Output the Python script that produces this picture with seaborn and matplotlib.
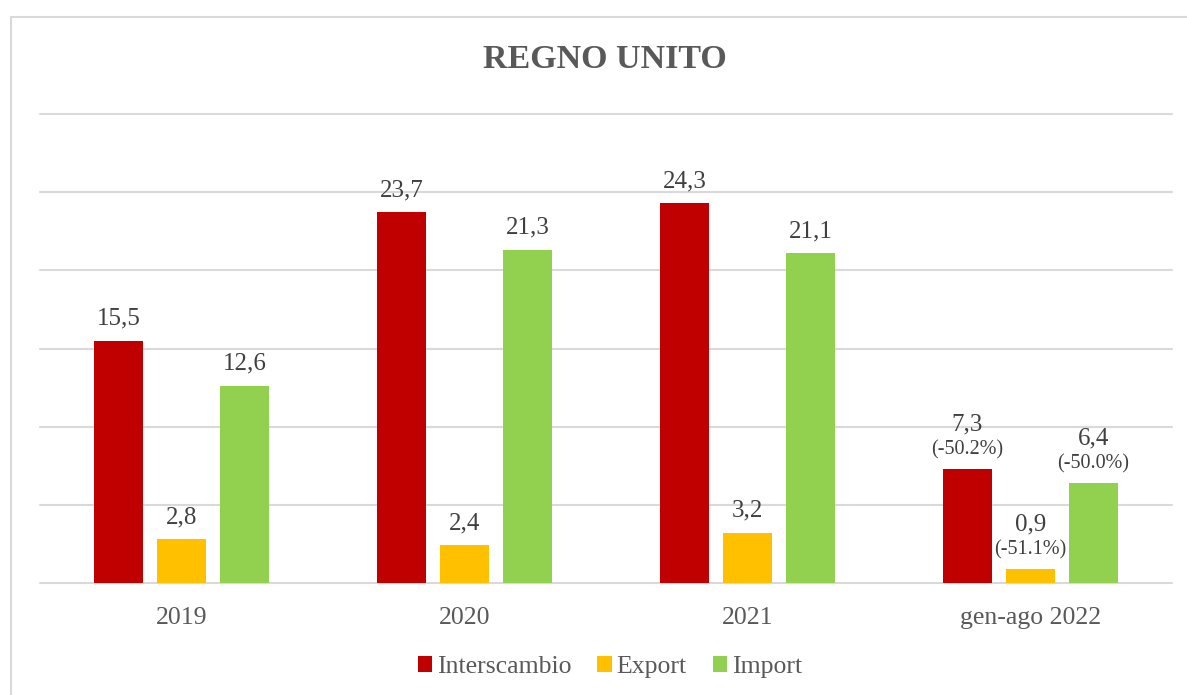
import matplotlib
matplotlib.use("Agg")
import matplotlib.pyplot as plt
from matplotlib.lines import Line2D
import seaborn as sns
import pandas as pd

categories = ["2019", "2020", "2021", "gen-ago 2022"]
series = ["Interscambio", "Export", "Import"]
interscambio = [15.5, 23.7, 24.3, 7.3]
export = [2.8, 2.4, 3.2, 0.9]
import_ = [12.6, 21.3, 21.1, 6.4]
pct_2022 = ["(-50.2%)", "(-51.1%)", "(-50.0%)"]
colors = ["#C00000", "#FFC000", "#92D050"]

rows = []
for s, vals in zip(series, [interscambio, export, import_]):
    for c, v in zip(categories, vals):
        rows.append({"period": c, "series": s, "value": v})
df = pd.DataFrame(rows)

sns.set_theme(style="white")
plt.rcParams["font.family"] = ["Liberation Serif", "DejaVu Serif"]
text_color = "#595959"
label_color = "#404040"
grid_color = "#D9D9D9"

fig = plt.figure(figsize=(11.87, 6.95), dpi=100)
ax = fig.add_axes([40 / 1187, 1 - 583 / 695, (1172 - 40) / 1187, (583 - 114) / 695])

sns.barplot(data=df, x="period", y="value", hue="series", order=categories,
            hue_order=series, palette=colors, saturation=1, width=0.668, gap=0.223,
            linewidth=0, errorbar=None, ax=ax, legend=True)

ax.set_ylim(0, 30)
ax.set_xlim(-0.5, 3.5)
ax.set_yticks([0, 5, 10, 15, 20, 25, 30])
ax.yaxis.grid(True, color=grid_color, linewidth=1.5)
for gl in ax.get_ygridlines():
    gl.set_clip_on(False)
ax.set_axisbelow(True)
ax.tick_params(axis="y", left=False, labelleft=False)
ax.tick_params(axis="x", bottom=False, pad=11, labelsize=18.5, labelcolor=text_color)
for sp in ax.spines.values():
    sp.set_visible(False)
ax.set_xlabel("")
ax.set_ylabel("")

for i, cont in enumerate(ax.containers):
    vals = [b.get_height() for b in cont]
    main = []
    upper = []
    for j, v in enumerate(vals):
        lab = f"{v:.1f}".replace(".", ",")
        if j == len(categories) - 1:
            main.append("")
            upper.append(lab)
        else:
            main.append(lab)
            upper.append("")
    ax.bar_label(cont, labels=main, padding=8, fontsize=18, color=label_color)
    ax.bar_label(cont, labels=upper, padding=24, fontsize=18, color=label_color)
    ax.bar_label(cont, labels=[""] * (len(categories) - 1) + [pct_2022[i]],
                 padding=7, fontsize=14.5, color=label_color)

handles, labels = ax.get_legend_handles_labels()
ax.get_legend().remove()
fig.legend(handles, labels, loc="center", bbox_to_anchor=(610 / 1187, 1 - 667 / 695),
           ncol=3, frameon=False, handlelength=0.55, handleheight=0.55,
           handletextpad=0.2, columnspacing=1.0, prop={"size": 18.5},
           labelcolor=text_color)

fig.text(605 / 1187, 1 - 60 / 695, "REGNO UNITO", ha="center", va="center",
         fontsize=24.5, fontweight="bold", color=text_color)

fig.add_artist(Line2D([10.5 / 1187, 1.0], [1 - 16.5 / 695] * 2, transform=fig.transFigure,
                      color=grid_color, linewidth=1.5))
fig.add_artist(Line2D([10.5 / 1187] * 2, [1 - 16.5 / 695, 0.0], transform=fig.transFigure,
                      color=grid_color, linewidth=1.5))

fig.savefig("out.png", dpi=100)
